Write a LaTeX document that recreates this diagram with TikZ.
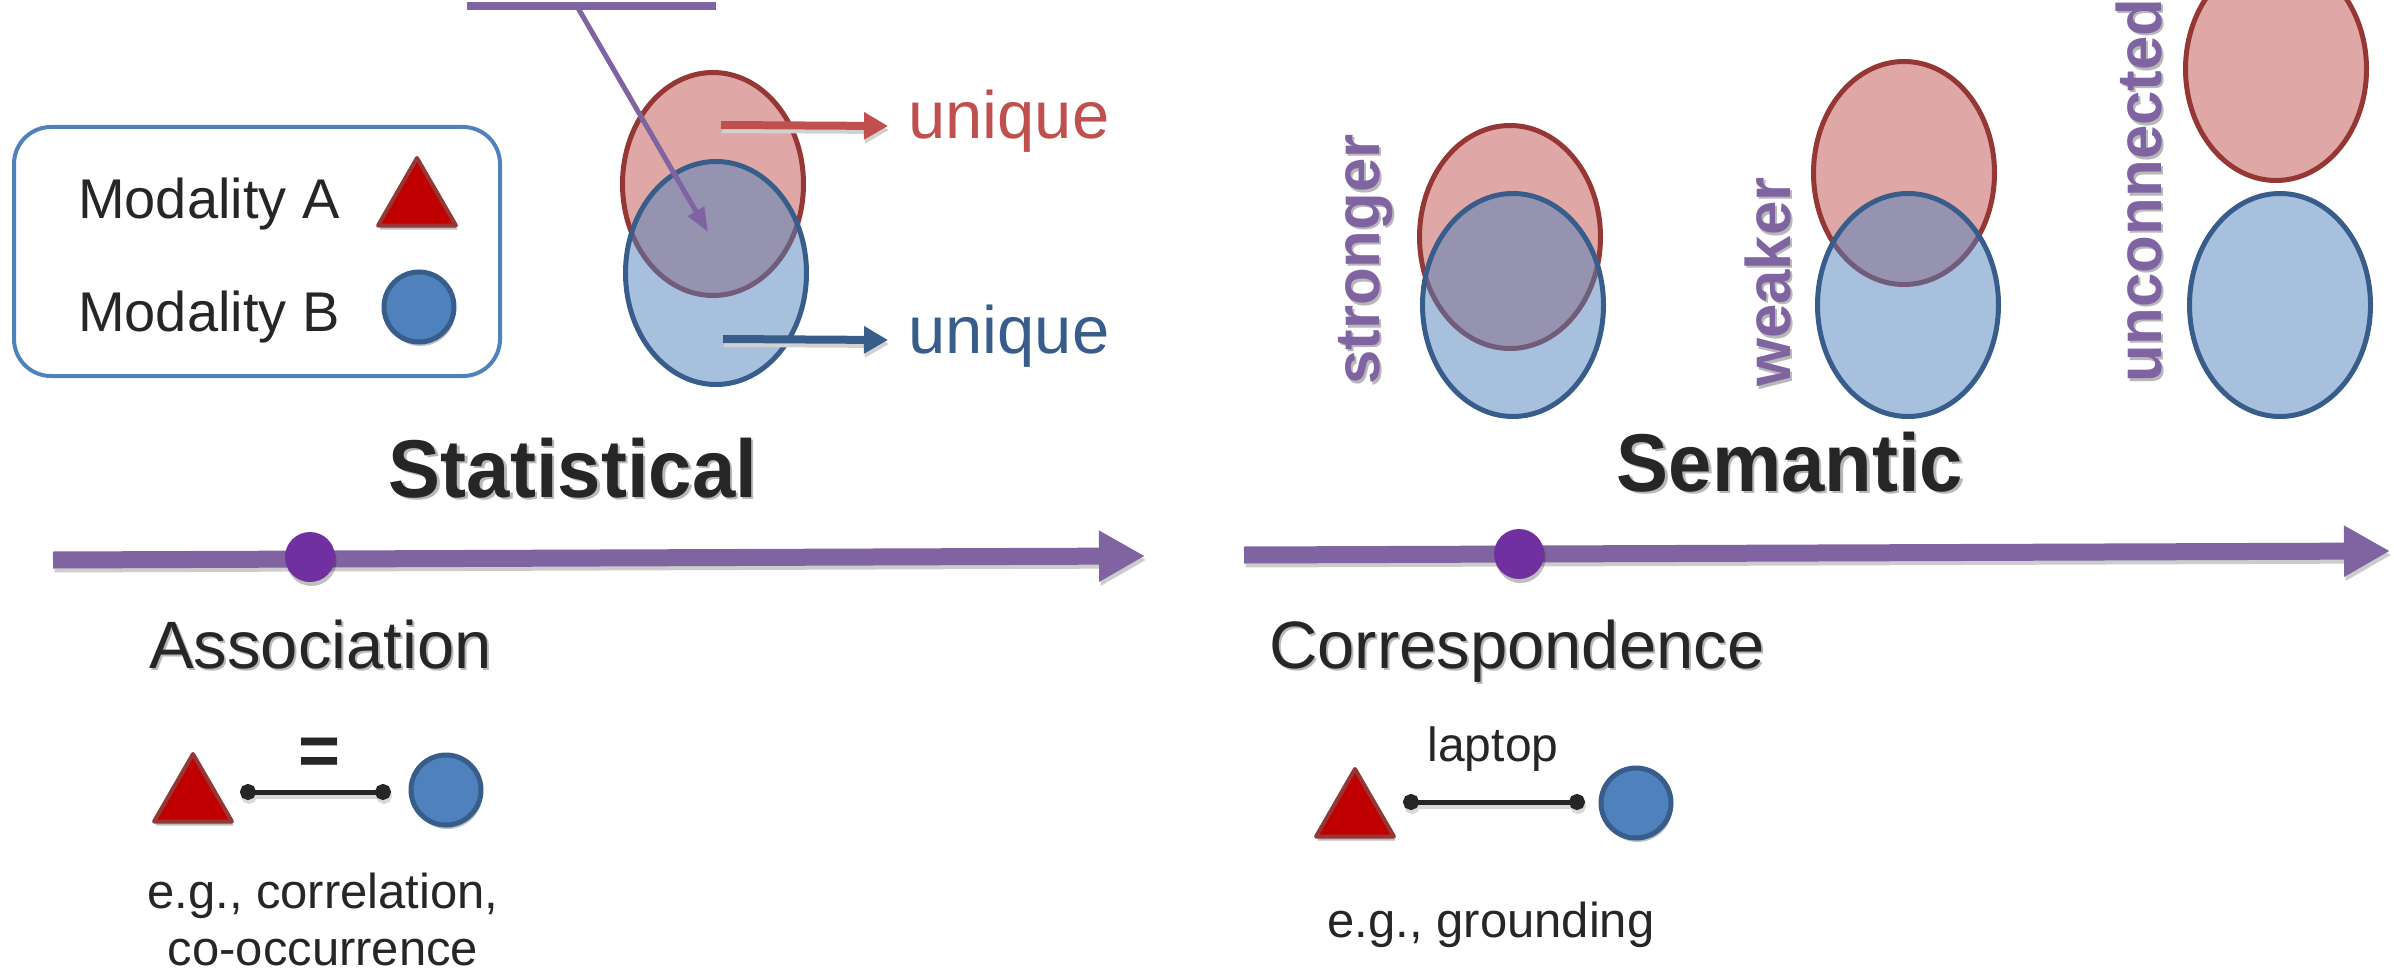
\documentclass[tikz,border=0pt]{standalone}
\usepackage{fontspec}
\setmainfont{Liberation Sans}
\newfontfamily\headfont{Liberation Sans}[FakeStretch=0.95]
\newfontfamily\vfont{Liberation Sans}[FakeStretch=0.98]
\usetikzlibrary{arrows.meta,shapes.geometric,shadows}
\definecolor{tlc}{HTML}{8064A2}
\definecolor{dotc}{HTML}{7030A0}
\definecolor{redfill}{HTML}{C0504D}
\definecolor{redline}{HTML}{953735}
\definecolor{bluefill}{HTML}{4F81BD}
\definecolor{blueline}{HTML}{385D8A}
\definecolor{trired}{HTML}{C00000}
\definecolor{txtc}{HTML}{262626}
\newcommand\fs[1]{\fontsize{#1}{#1}\selectfont}
\newcommand\shtxt[3]{\makebox[0pt][l]{\hspace*{#1}\raisebox{#2}{\color{black!28}#3}}#3}
\begin{document}
\begin{tikzpicture}[x=1pt,y=-1pt,
  txt/.style={inner sep=0pt, text=txtc},
  shad/.style={drop shadow={shadow xshift=1.5pt, shadow yshift=-4pt, opacity=0.25, fill=black}},
  redell/.style={ellipse, draw=redline, line width=5pt, fill=redfill, fill opacity=0.5, draw opacity=1, minimum width=181pt, minimum height=223pt, inner sep=0pt},
  blueell/.style={ellipse, draw=blueline, line width=5pt, fill=bluefill, fill opacity=0.5, draw opacity=1, minimum width=181pt, minimum height=223pt, inner sep=0pt},
  triA/.style={regular polygon, regular polygon sides=3, fill=trired, draw=redline, line width=4pt, line join=round, minimum size=90pt, inner sep=0pt, shad},
  cirB/.style={circle, fill=bluefill, draw=blueline, line width=5pt, minimum size=70pt, inner sep=0pt, shad},
  tdot/.style={circle, fill=dotc, minimum size=50pt, inner sep=0pt, shad},
  timeline/.style={draw=tlc, line width=17pt, -{Triangle[length=46pt,width=48pt]},
    preaction={draw=black!20, line width=17pt, -{Triangle[length=46pt,width=48pt]}, transform canvas={xshift=1.5pt,yshift=-4pt}}},
  link/.style={draw=txtc, line width=5pt, {Circle[length=16pt]}-{Circle[length=16pt]},
    preaction={draw=black!15, line width=5pt, {Circle[length=16pt]}-{Circle[length=16pt]}, transform canvas={xshift=1pt,yshift=-4pt}}},
  uarrow/.style={line width=8pt, -{Triangle[length=24pt,width=26pt]},
    preaction={draw=black!18, line width=8pt, -{Triangle[length=24pt,width=26pt]}, transform canvas={xshift=1pt,yshift=-4pt}}},
  vlabel/.style={inner sep=0pt, rotate=90, anchor=base west, text=tlc, font=\vfont\bfseries\fs{63}},
  legendbox/.style={draw=bluefill, line width=4pt, rounded corners=37pt, minimum width=486pt, minimum height=249pt, inner sep=0pt}
]
\useasboundingbox (0,0) rectangle (2394,971);
\clip (0,0) rectangle (2394,971);

% ---------- Legend ----------
\node[legendbox] (legend) at (257,251.5) {};
\node[txt, anchor=base west] (modA) at (78,218) {\fs{56}Modality A};
\node[txt, anchor=base west] (modB) at (78,331) {\fs{56}Modality B};
\node[triA] (legTri) at (417,203) {};
\node[cirB] (legCir) at (419,307) {};

% ---------- Statistical Venn ----------
\node[redell] (sRed) at (713,184) {};
\node[blueell] (sBlue) at (716,273) {};
\coordinate (barL) at (467,6);
\coordinate (barR) at (716,6);
\draw[tlc, line width=8pt] (barL) -- (barR);
\coordinate (barJ) at (578,8);
\coordinate (overlap) at (708,232);
\draw[tlc, line width=5pt, -{Triangle[length=24pt,width=18pt]}] (barJ) -- (overlap);
\coordinate (ur1) at (721,125);
\coordinate (ur2) at (888,126);
\draw[uarrow, draw=redfill] (ur1) -- (ur2);
\coordinate (ub1) at (723,339);
\coordinate (ub2) at (888,340);
\draw[uarrow, draw=blueline] (ub1) -- (ub2);
\node[inner sep=0pt, anchor=base west, text=redfill] (uniqR) at (908,139) {\fs{67}unique};
\node[inner sep=0pt, anchor=base west, text=blueline] (uniqB) at (908,353) {\fs{67}unique};

\node[txt, anchor=base] (stat) at (573,497) {\headfont\bfseries\fs{82}\shtxt{2.5pt}{-2.5pt}{Statistical}};

% ---------- Statistical timeline ----------
\coordinate (t1s) at (53,560);
\coordinate (t1e) at (1145,556);
\draw[timeline] (t1s) -- (t1e);
\node[tdot] (d1) at (310,557) {};
\node[txt, anchor=base west] (assoc) at (149,668) {\fs{67}\shtxt{2pt}{-2.5pt}{Association}};

\node[triA] (aTri) at (193,799) {};
\node[cirB] (aCir) at (446,790) {};
\coordinate (aL) at (240,792);
\coordinate (aR) at (391,792);
\draw[link] (aL) -- (aR);
\node[txt] (eq) at (320,757) {\bfseries\fs{72}=};
\node[txt, anchor=base] (eg1) at (323,908) {\fs{49}e.g., correlation,};
\node[txt, anchor=base] (eg2) at (323,965) {\fs{49}co-occurrence};

% ---------- Semantic Venns ----------
\node[redell] (stR) at (1510,237) {};
\node[blueell] (stB) at (1513,305) {};
\node[redell] (wkR) at (1904,173) {};
\node[blueell] (wkB) at (1908,305) {};
\node[redell] (unR) at (2276,69) {};
\node[blueell] (unB) at (2280,305) {};
\node[vlabel] (lstr) at (1379,385) {\shtxt{-2.5pt}{-2.5pt}{stronger}};
\node[vlabel] (lwk) at (1790,387) {\shtxt{-2.5pt}{-2.5pt}{weaker}};
\node[vlabel] (lun) at (2161,383) {\shtxt{-2.5pt}{-2.5pt}{unconnected}};

\node[txt, anchor=base] (sem) at (1790,491) {\headfont\bfseries\fs{82}\shtxt{2.5pt}{-2.5pt}{Semantic}};

% ---------- Semantic timeline ----------
\coordinate (t2s) at (1244,555);
\coordinate (t2e) at (2390,551);
\draw[timeline] (t2s) -- (t2e);
\node[tdot] (d2) at (1519,554) {};
\node[txt, anchor=base west] (corr) at (1269,668) {\fs{67}\shtxt{2pt}{-2.5pt}{Correspondence}};

\node[triA] (cTri) at (1355,814) {};
\node[cirB] (cCir) at (1636,803) {};
\coordinate (cL) at (1403,802);
\coordinate (cR) at (1585,802);
\draw[link] (cL) -- (cR);
\node[txt, anchor=base] (lap) at (1493,761) {\fs{48}laptop};
\node[txt, anchor=base] (eg3) at (1491,937) {\fs{49}e.g., grounding};
\end{tikzpicture}
\end{document}
